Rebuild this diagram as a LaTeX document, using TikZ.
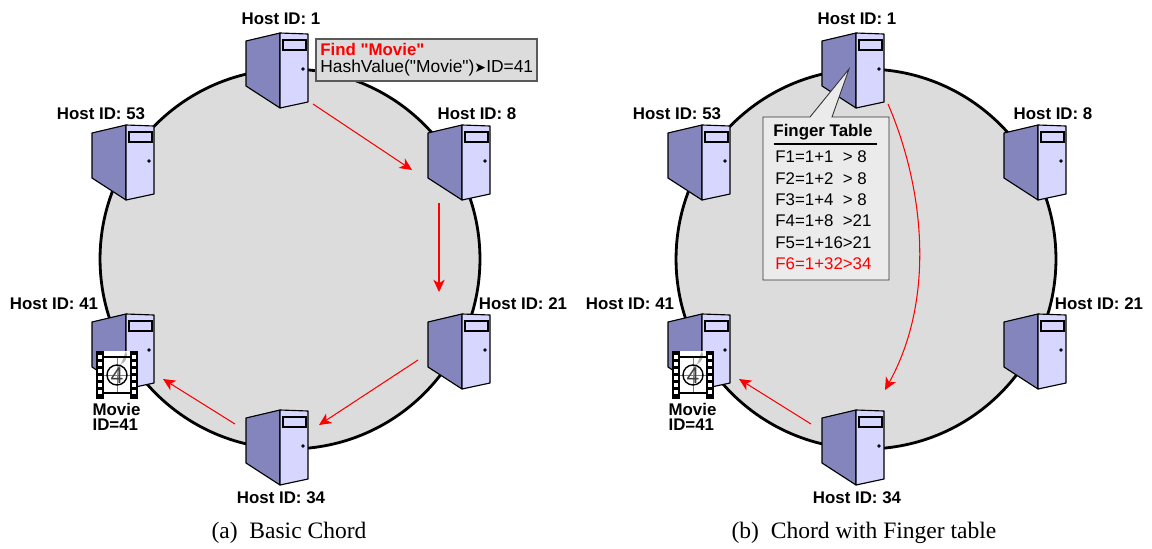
\documentclass[tikz,border=0pt]{standalone}
\usepackage{fontspec}
\setmainfont{Liberation Sans}
\newfontfamily\hostfont{Liberation Sans}
\newfontfamily\capfont{Liberation Serif}
\newfontfamily\symfont{DejaVu Sans}
\usetikzlibrary{arrows.meta,positioning}
\definecolor{ringbg}{HTML}{DCDCDC}
\definecolor{sideface}{HTML}{8585BD}
\definecolor{frontface}{HTML}{D6D6FF}
\definecolor{tablebg}{HTML}{EBEBEB}
\tikzset{
ring/.style={circle,draw=black,fill=ringbg,line width=1.6pt,minimum size=7.6cm,inner sep=0pt},
host/.style={font=\fontsize{9.6}{8.5}\selectfont\bfseries,inner sep=0pt},
arr/.style={-{Stealth[length=7pt,width=6.5pt,inset=2pt]},draw=red,line width=.6pt},
row/.style={anchor=west,font=\fontsize{9.6}{10}\selectfont,inner sep=0pt},
caption/.style={font=\fontsize{13.4}{14}\selectfont\capfont,inner sep=0pt},
server/.pic={
\draw[fill=sideface,line width=.65pt,line join=round] (0,8)--(34,0)--(34,75)--(0,53)--cycle;
\draw[fill=frontface,line width=.65pt,line join=round] (34,0)--(62,1)--(62,69)--(34,75)--cycle;
\draw[fill=frontface,line width=1pt] (37,7) rectangle (60,17);
\draw[fill=sideface,line width=.5pt] (57,36) circle (1.3);
},
film/.pic={
\fill[white] (0,0) rectangle (42,48);
\fill[black] (0,0) rectangle (8,48);\fill[black] (34,0) rectangle (42,48);
\foreach \r in {0,1,2,3,4,5}{\fill[white] (2,{3.5+\r*7}) rectangle (6,{7.5+\r*7});\fill[white] (36,{3.5+\r*7}) rectangle (40,{7.5+\r*7});}
\draw[gray,line width=.3pt] (21,6) -- (21,42);\draw[gray,line width=.3pt] (8,24) -- (34,24);
\fill[black!30] (21,24) -- (21,14) arc (90:-25:10) -- cycle;
\draw[line width=.8pt] (21,24) circle (10);
\draw[line width=1.6pt] (8,6) -- (34,6);\draw[line width=1.6pt] (8,42) -- (34,42);
\node[font=\fontsize{13}{14}\selectfont,text=black!75,inner sep=0pt] at (21,24.5) {4};
}}
\begin{document}
\begin{tikzpicture}[x=.02cm,y=-.02cm]
\useasboundingbox (0,0) rectangle (1152,548);
\node[ring] (ringa) at (290,259) {};\node[ring] (ringb) at (866,259) {};
% hosts of both rings
\foreach \x/\n in {0/a,576/b}{
\pic at (246+\x,33) {server};\pic at (428+\x,125) {server};\pic at (92+\x,125) {server};
\pic at (428+\x,314) {server};\pic at (92+\x,314) {server};\pic at (246+\x,410) {server};
\node[host] (h1\n) at (281+\x,19) {Host ID: 1};\node[host] (h8\n) at (477+\x,114) {Host ID: 8};
\node[host] (h53\n) at (101+\x,114) {Host ID: 53};\node[host] (h21\n) at (523+\x,304) {Host ID: 21};
\node[host] (h41\n) at (54+\x,304) {Host ID: 41};\node[host] (h34\n) at (281+\x,498) {Host ID: 34};
\pic at (96+\x,351) {film};
\node[host,align=left] (m\n) at (116.5+\x,417) {Movie\\ID=41};
}
% hops of the plain lookup
\coordinate (p1) at (313,104);\coordinate (p2) at (412,170);\coordinate (p3) at (439,203);\coordinate (p4) at (439,292);
\coordinate (p5) at (418,360);\coordinate (p6) at (319,425);\coordinate (p7) at (235,424);\coordinate (p8) at (163,379);
\draw[arr] (p1)--(p2);\draw[arr] (p3)--(p4);\draw[arr] (p5)--(p6);\draw[arr] (p7)--(p8);
% hops with the table
\coordinate (q1) at (888,104);\coordinate (q2) at (885,390);\coordinate (q3) at (811,424);\coordinate (q4) at (739,379);
\draw[arr] (q1) .. controls (925,190) and (935,300) .. (q2);\draw[arr] (q3)--(q4);
% hash box
\node[draw=black!65,fill=ringbg,line width=.7pt,minimum width=4.42cm,minimum height=.84cm,inner sep=0pt] (hash) at (426.5,60) {};
\node[row,font=\fontsize{9.6}{10}\selectfont\hostfont\bfseries,text=red] (find) at (320,49.5) {Find "Movie"};
\node[row,font=\fontsize{9.9}{10}\selectfont\hostfont] (hval) at (320,68) {HashValue("Movie"){\symfont\fontsize{8}{8}\selectfont ➤}ID=41};
% finger table
\draw[fill=tablebg,draw=black!80,line width=.5pt] (763,117)--(810,117)--(849,69)--(832,117)--(889,117)--(889,280)--(763,280)--cycle;
\node[host] (ft) at (823,132) {Finger Table};
\coordinate (fl) at (774,144);\coordinate (fr) at (877,144);\draw[line width=.6pt] (fl)--(fr);
\foreach \y/\t in {157/F1=1+1~~> 8,179/F2=1+2~~> 8,200/F3=1+4~~> 8,221/F4=1+8~~>21,243/F5=1+16>21}
\node[row] at (775,\y) {\t};
\node[row,text=red] (f6) at (775,264) {F6=1+32>34};
\node[caption] (capa) at (289,533) {(a)\enspace Basic Chord};\node[caption] (capb) at (864,533) {(b)\enspace Chord with Finger table};
\end{tikzpicture}
\end{document}
